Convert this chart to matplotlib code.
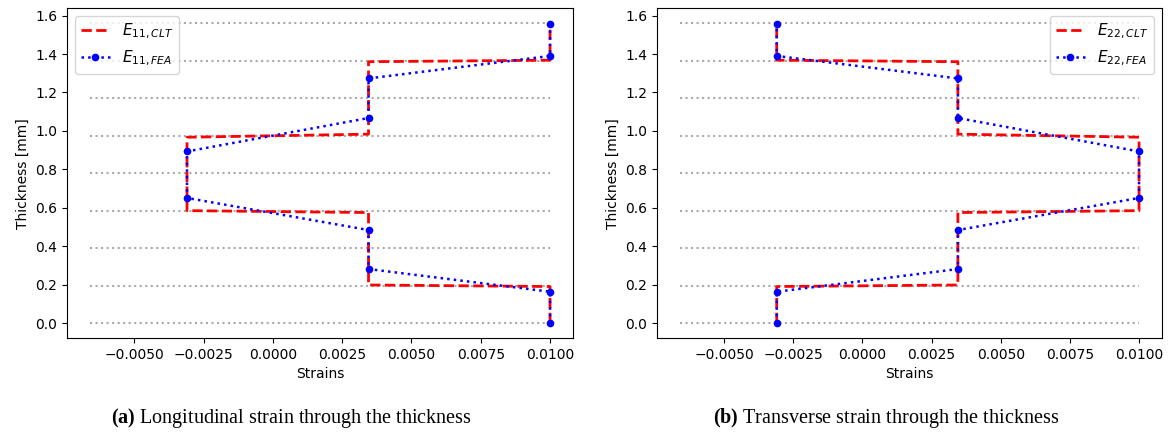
import numpy as np
import matplotlib
matplotlib.use("Agg")
import matplotlib.pyplot as plt

plt.rcParams['mathtext.fontset'] = 'custom'
plt.rcParams['mathtext.rm'] = 'DejaVu Sans'
plt.rcParams['mathtext.it'] = 'DejaVu Sans:italic'
plt.rcParams['mathtext.bf'] = 'Liberation Serif:bold'

# Interfaces des couches (8 plis de 0.195 mm)
layer_z = [0.0, 0.195, 0.39, 0.585, 0.78, 0.975, 1.17, 1.365, 1.56]

# Courbe CLT : points
clt_z = [0.0, 0.19, 0.198, 0.575, 0.585, 0.967, 0.983, 1.36, 1.368, 1.556]
clt_e11 = [0.01, 0.01, 0.00345, 0.00345, -0.0031, -0.0031, 0.00345, 0.00345, 0.01, 0.01]
clt_e22 = [-0.0031, -0.0031, 0.00345, 0.00345, 0.01, 0.01, 0.00345, 0.00345, -0.0031, -0.0031]

# Resultats FEA
fea_z = [0.0, 0.163, 0.281, 0.484, 0.651, 0.893, 1.067, 1.273, 1.390, 1.554]
fea_e11 = [0.01, 0.01, 0.00345, 0.00345, -0.0031, -0.0031, 0.00345, 0.00345, 0.01, 0.01]
fea_e22 = [-0.0031, -0.0031, 0.00345, 0.00345, 0.01, 0.01, 0.00345, 0.00345, -0.0031, -0.0031]

grid_xmin = -0.0066
grid_xmax = 0.01

fig = plt.figure(figsize=(11.69, 4.37), dpi=100)
ax1 = fig.add_axes([0.0573, 0.2265, 0.4329, 0.7545])
ax2 = fig.add_axes([0.562, 0.2265, 0.432, 0.7545])

panels = [
    (ax1, clt_e11, fea_e11, r'$E_{11,CLT}$', r'$E_{11,FEA}$', 'upper left'),
    (ax2, clt_e22, fea_e22, r'$E_{22,CLT}$', r'$E_{22,FEA}$', 'upper right'),
]

for ax, clt, fea, lab_clt, lab_fea, loc in panels:
    ax.hlines(layer_z, grid_xmin, grid_xmax, colors='darkgray', linestyles=':', linewidth=1.5)
    ax.plot(clt, clt_z, 'r--', linewidth=2, label=lab_clt)
    ax.plot(fea, fea_z, 'b:', marker='o', markersize=4.5, linewidth=1.8, label=lab_fea)
    ax.set_xlabel('Strains', fontsize=10)
    ax.set_ylabel('Thickness [mm]', fontsize=10)
    ax.tick_params(labelsize=10)
    ax.legend(loc=loc, fontsize=11, handlelength=1.9)

fig.text(0.249, 0.043, r'$\mathbf{(a)}$ Longitudinal strain through the thickness',
         ha='center', va='center', family='Liberation Serif', fontsize=14.5)
fig.text(0.758, 0.043, r'$\mathbf{(b)}$ Transverse strain through the thickness',
         ha='center', va='center', family='Liberation Serif', fontsize=14.5)

fig.savefig('out.png', dpi=100)
